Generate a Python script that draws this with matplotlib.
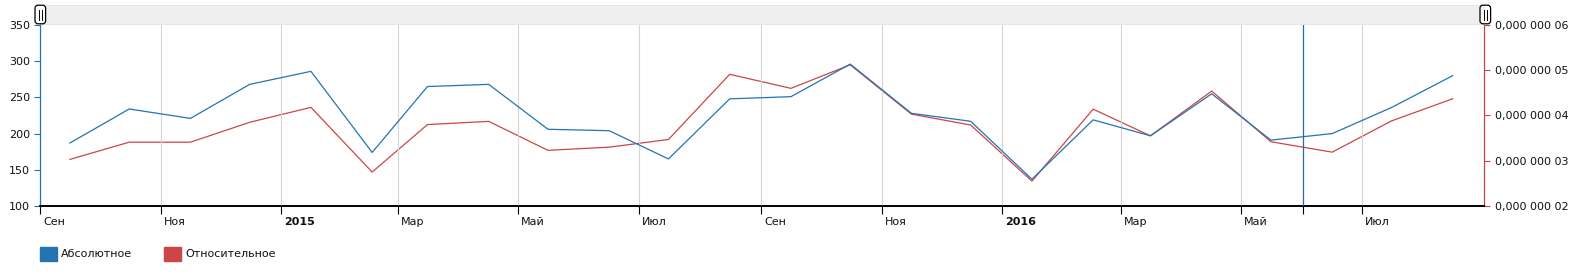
import numpy as np
import matplotlib
matplotlib.use("Agg")
import matplotlib.pyplot as plt
import matplotlib.dates as mdates
import matplotlib.transforms as mtransforms
from matplotlib.patches import Patch, Rectangle, FancyBboxPatch
from matplotlib.ticker import FuncFormatter, MultipleLocator, FixedLocator

plt.rcParams["font.family"] = ["DejaVu Sans"]

# monthly points (mid-month)
dates = np.array(["2014-09-16", "2014-10-16", "2014-11-16", "2014-12-16",
                  "2015-01-16", "2015-02-16", "2015-03-16", "2015-04-16",
                  "2015-05-16", "2015-06-16", "2015-07-16", "2015-08-16",
                  "2015-09-16", "2015-10-16", "2015-11-16", "2015-12-16",
                  "2016-01-16", "2016-02-16", "2016-03-16", "2016-04-16",
                  "2016-05-16", "2016-06-16", "2016-07-16", "2016-08-16"],
                 dtype="datetime64[D]")

absolute = [187, 234, 221, 268, 286, 174, 265, 268, 206, 204, 165, 248,
            251, 296, 228, 217, 137, 219, 197, 255, 191, 200, 236, 280]

relative = np.array([3.03, 3.41, 3.41, 3.85, 4.18, 2.75, 3.80, 3.87,
                     3.23, 3.30, 3.47, 4.91, 4.60, 5.12, 4.03, 3.79,
                     2.55, 4.14, 3.55, 4.54, 3.42, 3.19, 3.88, 4.37]) * 1e-8

tick_dates = np.array(["2014-09-01", "2014-11-01", "2015-01-01", "2015-03-01",
                       "2015-05-01", "2015-07-01", "2015-09-01", "2015-11-01",
                       "2016-01-01", "2016-03-01", "2016-05-01", "2016-07-01"],
                      dtype="datetime64[D]")
tick_labels = ["Сен", "Ноя", "2015", "Мар", "Май", "Июл",
               "Сен", "Ноя", "2016", "Мар", "Май", "Июл"]
cursor_date = np.datetime64("2016-06-01")

series_names = ["Абсолютное", "Относительное"]
blue = "#2374b1"
red = "#cc4646"
W, H = 1584, 278

fig = plt.figure(figsize=(W / 100, H / 100), dpi=100)
ax = fig.add_axes([40.3 / W, 1 - 206 / H, 1444 / W, 181 / H])
ax2 = ax.twinx()

ax.plot(dates, absolute, color=blue, lw=0.9, zorder=3)
ax2.plot(dates, relative, color=red, lw=0.9, zorder=3)
ax.axvline(cursor_date, color="#2b68a6", lw=0.9, zorder=4)

ax.set_xlim(np.datetime64("2014-09-01"), np.datetime64("2016-09-01"))
ax.set_ylim(100, 350)
ax2.set_ylim(2e-8, 6e-8)

ax.set_xticks(tick_dates)
ax.set_xticklabels(tick_labels)
ax.xaxis.set_minor_locator(FixedLocator([mdates.date2num(cursor_date)]))
ax.tick_params(axis="x", which="both", direction="out", length=5.5, width=0.8,
               color="black", labelsize=8, pad=2.5, labelcolor="#111111")
offset = mtransforms.ScaledTranslation(3 / 100, 0, fig.dpi_scale_trans)
for lab in ax.get_xticklabels():
    lab.set_horizontalalignment("left")
    lab.set_transform(lab.get_transform() + offset)
    if lab.get_text().isdigit():
        lab.set_fontweight("bold")
ax.grid(axis="x", color="#d5d5d5", lw=0.8)

ax.yaxis.set_major_locator(MultipleLocator(50))
ax.tick_params(axis="y", direction="out", length=4.5, width=0.8, color=blue,
               labelsize=8, pad=3, labelcolor="#111111")


def small_fmt(v, pos):
    whole, frac = f"{v:.8f}".split(".")
    return whole + "," + " ".join(frac[i:i + 3] for i in range(0, len(frac), 3))


ax2.yaxis.set_major_locator(MultipleLocator(1e-8))
ax2.yaxis.set_major_formatter(FuncFormatter(small_fmt))
ax2.tick_params(axis="y", direction="out", length=4.5, width=0.8, color=red,
                labelsize=8, pad=3, labelcolor="#111111")

for a in (ax, ax2):
    a.spines["top"].set_visible(False)
    a.spines["bottom"].set_color("black")
    a.spines["bottom"].set_linewidth(1.2)
ax.spines["right"].set_visible(False)
ax.spines["left"].set_color(blue)
ax.spines["left"].set_linewidth(0.9)
ax2.spines["left"].set_visible(False)
ax2.spines["right"].set_color(red)
ax2.spines["right"].set_linewidth(0.9)
ax.set_zorder(ax2.get_zorder() + 1)
ax.patch.set_visible(False)

# scrollbar strip on top
over = fig.add_axes([0, 0, 1, 1])
over.set_xlim(0, W)
over.set_ylim(H, 0)
over.axis("off")
over.add_patch(Rectangle((40.3, 4.7), 1444, 19.6, facecolor="#efefef",
                         edgecolor="#e2e2e2", lw=0.6))
for cx in (40.3, 1485.3):
    over.add_patch(FancyBboxPatch((cx - 5.3, 5.2), 10.6, 18.6,
                                  boxstyle="round,pad=0,rounding_size=3",
                                  facecolor="white", edgecolor="black", lw=0.9))
    over.plot([cx - 1.4, cx - 1.4], [9.5, 19.5], color="black", lw=0.7)
    over.plot([cx + 1.4, cx + 1.4], [9.5, 19.5], color="black", lw=0.7)

handles = [Patch(facecolor=blue, edgecolor=blue), Patch(facecolor=red, edgecolor=red)]
fig.legend(handles, series_names, loc="upper left",
           bbox_to_anchor=(40 / W, 1 - 247 / H), ncol=2, frameon=False,
           fontsize=8, handlelength=1.5, handleheight=1.5, handletextpad=0.4,
           columnspacing=2.9, borderpad=0, borderaxespad=0, labelcolor="#111111")

fig.savefig("out.png", dpi=100)
